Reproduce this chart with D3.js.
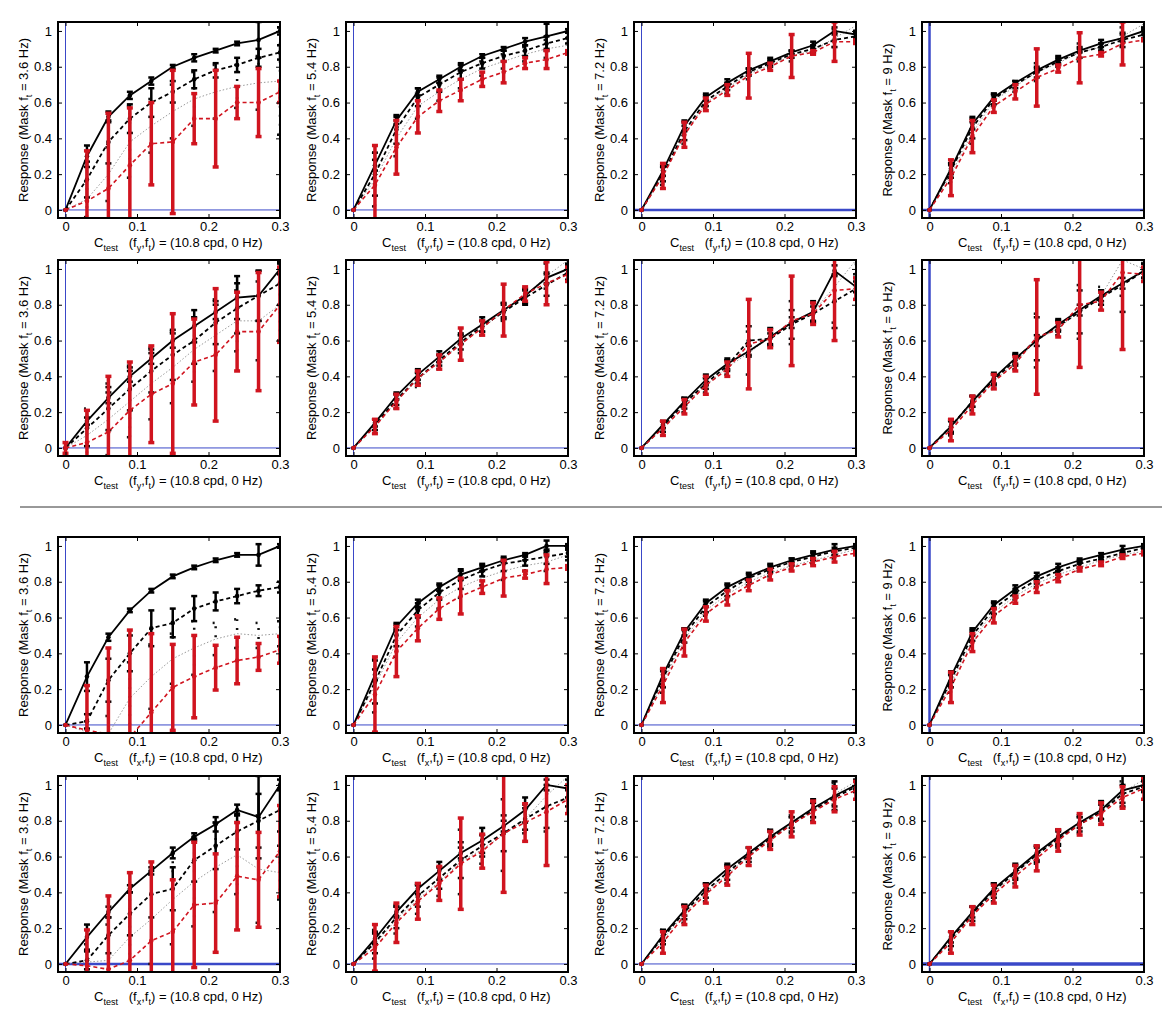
<!DOCTYPE html>
<html>
<head>
<meta charset="utf-8">
<script src="https://cdn.jsdelivr.net/npm/d3@7"></script>
<style>
  body { margin: 0; background: #fff; }
  text { font-family: "Liberation Sans", Arial, sans-serif; }
</style>
</head>
<body>
<svg id="fig" width="1167" height="1020"></svg>
<script>
// test contrasts (x positions of every point)
const contrasts = [0, 0.03, 0.06, 0.09, 0.12, 0.15, 0.18, 0.21, 0.24, 0.27, 0.30];
const xTicks = [0, 0.1, 0.2, 0.3];
const yTicks = [0, 0.2, 0.4, 0.6, 0.8, 1];
const maskFreqs = ['3.6', '5.4', '7.2', '9'];
const rowDims = ['y', 'y', 'x', 'x'];

// panels in row-major order, 11 values each
const solid = [
  [0, .30, .52, .64, .72, .80, .85, .89, .93, .95, 1.0],
  [0, .25, .50, .66, .73, .80, .86, .90, .94, .97, 1.0],
  [0, .22, .47, .63, .71, .78, .83, .88, .92, 1.0, .98],
  [0, .23, .48, .63, .71, .78, .84, .89, .93, .96, 1.0],
  [0, .15, .28, .40, .50, .60, .68, .76, .84, .85, 1.0],
  [0, .14, .29, .41, .51, .61, .69, .77, .85, .95, 1.0],
  [0, .13, .26, .38, .47, .54, .62, .70, .76, .99, .90],
  [0, .12, .26, .39, .50, .60, .69, .77, .85, .92, .99],
  [0, .27, .49, .64, .75, .83, .88, .92, .95, .95, 1.0],
  [0, .28, .55, .68, .77, .84, .88, .92, .95, 1.0, 1.0],
  [0, .28, .52, .68, .77, .83, .88, .92, .95, .98, 1.0],
  [0, .27, .52, .67, .76, .83, .88, .92, .95, .98, 1.0],
  [0, .15, .29, .42, .52, .62, .71, .78, .86, .82, 1.0],
  [0, .14, .29, .42, .52, .62, .69, .77, .86, 1.0, .98],
  [0, .16, .30, .43, .53, .62, .71, .79, .87, .94, 1.0],
  [0, .15, .29, .42, .52, .62, .71, .79, .86, .97, 1.0]
];
const dashed = [
  [0, .17, .38, .51, .60, .66, .73, .78, .81, .85, .88],
  [0, .20, .45, .63, .70, .77, .82, .86, .89, .93, .96],
  [0, .20, .44, .61, .69, .77, .82, .87, .90, .95, .97],
  [0, .22, .46, .62, .70, .77, .83, .88, .91, .95, .98],
  [0, .11, .22, .33, .43, .52, .60, .70, .78, .85, .92],
  [0, .13, .27, .39, .49, .59, .68, .76, .84, .91, .98],
  [0, .12, .25, .36, .46, .60, .61, .69, .75, .82, .89],
  [0, .12, .26, .38, .49, .61, .68, .76, .84, .91, .99],
  [0, .02, .25, .40, .54, .57, .65, .69, .72, .75, .77],
  [0, .24, .50, .64, .74, .81, .86, .90, .92, .94, .96],
  [0, .26, .50, .66, .75, .82, .87, .91, .94, .97, .99],
  [0, .25, .50, .65, .74, .81, .86, .90, .93, .96, .99],
  [0, .02, .16, .28, .39, .42, .58, .66, .74, .80, .86],
  [0, .12, .26, .38, .48, .58, .66, .73, .81, .88, .93],
  [0, .15, .29, .41, .51, .61, .70, .78, .86, .93, .99],
  [0, .14, .28, .41, .51, .61, .70, .78, .85, .95, .99]
];
const dotted = [
  [0, .06, .20, .38, .47, .55, .62, .66, .69, .71, .72],
  [0, .17, .40, .58, .66, .73, .79, .83, .87, .90, .92],
  [0, .19, .42, .60, .68, .76, .81, .86, .89, .96, 1.03],
  [0, .20, .43, .61, .69, .77, .82, .88, .91, .97, 1.04],
  [0, .07, .16, .26, .36, .45, .55, .63, .71, .71, .80],
  [0, .12, .26, .38, .48, .58, .67, .76, .85, .96, 1.05],
  [0, .11, .24, .35, .45, .53, .62, .70, .76, .90, 1.05],
  [0, .11, .25, .37, .48, .60, .67, .76, .85, 1.05, 1.0],
  [0, -.04, -.05, .15, .27, .37, .43, .48, .51, .50, .51],
  [0, .22, .46, .60, .70, .77, .82, .86, .89, .91, .95],
  [0, .24, .48, .64, .73, .80, .85, .89, .92, .95, .98],
  [0, .23, .48, .63, .72, .79, .84, .88, .92, .95, .97],
  [0, .01, .02, .15, .25, .36, .46, .54, .61, .53, .51],
  [0, .11, .25, .36, .46, .57, .64, .72, .81, .94, 1.05],
  [0, .14, .28, .40, .50, .60, .70, .78, .85, .95, 1.02],
  [0, .13, .27, .40, .50, .61, .70, .78, .85, .96, 1.03]
];
const red = [
  [0, .05, .12, .25, .37, .38, .51, .51, .60, .60, .66],
  [0, .14, .35, .52, .61, .67, .73, .77, .82, .84, .88],
  [0, .19, .42, .59, .67, .75, .80, .86, .88, .94, .94],
  [0, .18, .41, .58, .66, .74, .79, .85, .87, .93, .95],
  [0, .03, .09, .21, .30, .36, .48, .52, .65, .65, .80],
  [0, .12, .26, .39, .48, .58, .67, .77, .86, .92, .97],
  [0, .11, .23, .35, .44, .58, .61, .71, .75, .88, .89],
  [0, .10, .24, .37, .47, .62, .66, .80, .82, .98, .97],
  [0, -.03, -.05, -.07, .07, .21, .27, .32, .36, .38, .42],
  [0, .17, .41, .54, .65, .72, .77, .82, .84, .87, .88],
  [0, .22, .46, .62, .71, .78, .84, .88, .91, .94, .96],
  [0, .21, .46, .61, .70, .77, .82, .87, .90, .94, .96],
  [0, -.01, -.03, .02, .13, .18, .33, .34, .49, .47, .63],
  [0, .09, .23, .35, .45, .56, .63, .73, .79, .85, .92],
  [0, .12, .27, .39, .49, .60, .69, .78, .85, .92, .97],
  [0, .12, .27, .39, .49, .59, .69, .78, .84, .93, .98]
];

// half-lengths of the error bars
const solidErr = [
  [0, .06, .03, .02, .02, .01, .02, .01, .01, .10, .02],
  [0, .03, .02, .02, .02, .02, .01, .01, .02, .07, .01],
  [0, .03, .03, .02, .02, .01, .02, .01, .02, .02, .02],
  [0, .03, .03, .02, .01, .01, .02, .01, .02, .02, .02],
  [0, .02, .03, .03, .03, .04, .09, .04, .12, .14, .03],
  [0, .02, .02, .03, .03, .03, .04, .04, .04, .03, .03],
  [0, .02, .02, .03, .03, .03, .05, .03, .06, .03, .03],
  [0, .03, .03, .03, .03, .03, .03, .03, .03, .03, .04],
  [0, .08, .02, .01, .01, .01, .01, .01, .01, .06, .01],
  [0, .03, .02, .02, .02, .03, .02, .01, .01, .03, .01],
  [0, .03, .02, .02, .02, .02, .02, .01, .02, .03, .01],
  [0, .03, .02, .02, .02, .02, .02, .01, .01, .02, .01],
  [0, .07, .03, .02, .02, .03, .02, .04, .03, .23, .03],
  [0, .03, .03, .03, .05, .03, .07, .03, .07, .03, .05],
  [0, .03, .03, .02, .03, .03, .04, .03, .05, .08, .03],
  [0, .03, .03, .03, .04, .04, .04, .03, .05, .09, .03]
];
const dashedErr = [
  [0, .10, .12, .08, .08, .06, .05, .04, .04, .05, .04],
  [0, .12, .08, .05, .04, .04, .03, .03, .03, .04, .03],
  [0, .04, .05, .03, .02, .02, .02, .02, .02, .04, .02],
  [0, .04, .06, .03, .02, .03, .02, .03, .02, .04, .02],
  [0, .10, .12, .12, .12, .14, .13, .12, .14, .14, .12],
  [0, .03, .03, .03, .03, .04, .03, .04, .04, .06, .04],
  [0, .03, .03, .03, .03, .08, .03, .08, .04, .15, .06],
  [0, .04, .03, .03, .03, .12, .03, .12, .04, .15, .04],
  [0, .04, .12, .10, .10, .08, .07, .05, .04, .03, .03],
  [0, .12, .06, .04, .04, .05, .03, .04, .03, .04, .02],
  [0, .05, .04, .03, .03, .02, .02, .02, .02, .02, .01],
  [0, .04, .03, .03, .02, .02, .02, .02, .01, .01, .01],
  [0, .05, .10, .12, .13, .12, .12, .13, .10, .15, .12],
  [0, .06, .06, .06, .06, .10, .06, .10, .06, .12, .05],
  [0, .04, .04, .04, .04, .04, .04, .04, .04, .05, .03],
  [0, .04, .04, .04, .04, .04, .04, .04, .04, .05, .03]
];
const dottedErr = [
  [0, .10, .15, .20, .15, .15, .15, .15, .12, .15, .30],
  [0, .15, .10, .07, .05, .05, .04, .04, .04, .05, .04],
  [0, .05, .05, .03, .03, .03, .02, .03, .02, .05, .03],
  [0, .05, .06, .03, .03, .05, .02, .05, .02, .05, .03],
  [0, .15, .20, .20, .20, .20, .18, .20, .17, .22, .20],
  [0, .04, .04, .04, .04, .05, .04, .05, .04, .07, .05],
  [0, .04, .04, .04, .04, .12, .04, .12, .05, .20, .08],
  [0, .04, .04, .04, .04, .15, .04, .15, .05, .20, .05],
  [0, .06, .10, .20, .18, .14, .15, .09, .08, .07, .07],
  [0, .15, .08, .05, .05, .06, .04, .05, .03, .05, .03],
  [0, .06, .05, .03, .03, .02, .02, .02, .02, .02, .01],
  [0, .05, .04, .03, .02, .02, .02, .02, .01, .01, .01],
  [0, .10, .20, .25, .25, .25, .25, .25, .22, .30, .15],
  [0, .08, .08, .08, .08, .18, .08, .20, .08, .20, .08],
  [0, .05, .05, .05, .05, .05, .05, .05, .05, .06, .04],
  [0, .05, .05, .05, .05, .05, .05, .05, .05, .06, .04]
];
const redErr = [
  [0, .28, .42, .32, .23, .40, .14, .27, .09, .19, .06],
  [0, .22, .15, .09, .06, .06, .04, .06, .03, .05, .01],
  [0, .07, .07, .035, .03, .125, .02, .12, .01, .11, .01],
  [0, .10, .09, .035, .04, .16, .02, .14, .01, .12, .005],
  [.03, .18, .31, .27, .27, .39, .24, .37, .22, .33, .21],
  [0, .04, .04, .04, .04, .09, .04, .145, .04, .12, .04],
  [0, .04, .04, .05, .04, .25, .05, .25, .06, .28, .06],
  [0, .06, .05, .04, .04, .32, .04, .35, .05, .43, .04],
  [0, .25, .48, .60, .44, .24, .23, .125, .13, .075, .075],
  [0, .21, .14, .07, .06, .10, .035, .10, .02, .08, .01],
  [0, .095, .075, .04, .04, .03, .03, .02, .02, .03, .01],
  [0, .085, .05, .04, .02, .03, .02, .01, .01, .01, .01],
  [0, .20, .41, .49, .44, .29, .35, .275, .30, .265, .255],
  [0, .13, .11, .10, .095, .255, .095, .33, .105, .30, .08],
  [0, .06, .05, .05, .05, .05, .05, .07, .06, .07, .05],
  [0, .06, .05, .05, .06, .07, .06, .06, .06, .06, .06]
];

// layout
const colLeft = [58, 346, 634, 922];
const rowTop = [22, 260, 537, 776];
const W = 222, H = 196;
// blue zero-line widths per panel: [horizontal, vertical]
const zeroLineWidth = [
  [1, 1], [1, 1], [2.5, 1], [2.5, 2.5],
  [1, 1], [1, 1], [1, 1], [1.5, 2.5],
  [1, 1], [1, 1], [1, 1], [1, 2.5],
  [2.5, 1], [1, 1], [1, 1], [3.5, 1.5]
];

const svg = d3.select('#fig');
const RED = '#d0141f';

svg.append('line')
  .attr('x1', 20).attr('x2', 1162).attr('y1', 507).attr('y2', 507)
  .attr('stroke', '#333').attr('stroke-width', 1);

solid.forEach((_, i) => {
  const r = Math.floor(i / 4), c = i % 4;
  const g = svg.append('g').attr('transform', `translate(${colLeft[c]},${rowTop[r]})`);

  const x = d3.scaleLinear().domain([-0.0105, 0.3]).range([0, W]);
  const y = d3.scaleLinear().domain([-0.045, 1.05]).range([H, 0]);

  g.append('clipPath').attr('id', 'clip' + i)
    .append('rect').attr('width', W).attr('height', H);

  const plot = g.append('g').attr('clip-path', `url(#clip${i})`);

  // zero lines
  plot.append('line')
    .attr('x1', 0).attr('x2', W).attr('y1', y(0)).attr('y2', y(0))
    .attr('stroke', '#3a48c8').attr('stroke-width', zeroLineWidth[i][0]);
  plot.append('line')
    .attr('x1', x(0)).attr('x2', x(0)).attr('y1', 0).attr('y2', H)
    .attr('stroke', '#3a48c8').attr('stroke-width', zeroLineWidth[i][1]);

  const pts = (vals) => contrasts.map((cx, k) => [cx, vals[k]]);
  const line = d3.line().x(d => x(d[0])).y(d => y(d[1]));

  function bars(vals, errs, color, width, dash) {
    const bg = plot.append('g')
      .attr('stroke', color).attr('stroke-width', width)
      .attr('stroke-dasharray', dash);
    contrasts.forEach((cx, k) => {
      if (!errs[k]) return;
      const lo = y(vals[k] - errs[k]), hi = y(vals[k] + errs[k]);
      bg.append('line').attr('x1', x(cx)).attr('x2', x(cx)).attr('y1', lo).attr('y2', hi);
      bg.append('line').attr('x1', x(cx) - 3).attr('x2', x(cx) + 3).attr('y1', lo).attr('y2', lo)
        .attr('stroke-dasharray', null);
      bg.append('line').attr('x1', x(cx) - 3).attr('x2', x(cx) + 3).attr('y1', hi).attr('y2', hi)
        .attr('stroke-dasharray', null);
    });
  }

  function series(vals, color, width, dash, marker) {
    plot.append('path').datum(pts(vals))
      .attr('d', line).attr('fill', 'none')
      .attr('stroke', color).attr('stroke-width', width)
      .attr('stroke-dasharray', dash);
    if (marker) {
      plot.append('g').selectAll('circle').data(pts(vals)).join('circle')
        .attr('cx', d => x(d[0])).attr('cy', d => y(d[1])).attr('r', 2.3)
        .attr('fill', color);
    }
  }

  // black series with their bars
  bars(dotted[i], dottedErr[i], '#111', 2.5, '2,7');
  series(dotted[i], '#9a9a9a', 1, '1.5,2', false);
  bars(dashed[i], dashedErr[i], '#000', 2.5, null);
  series(dashed[i], '#000', 1.8, '4,3', true);
  bars(solid[i], solidErr[i], '#000', 2.5, null);
  series(solid[i], '#000', 1.8, null, true);
  // red series on top
  bars(red[i], redErr[i], RED, 3.5, null);
  series(red[i], RED, 1.6, '4,3', true);

  // axes with inward ticks on all sides
  const fmt = d => String(d);
  const styleAxis = (a) => {
    a.select('.domain').remove();
    a.selectAll('line').attr('stroke', '#000');
    a.selectAll('text').attr('font-size', 13).attr('fill', '#000')
      .attr('font-family', '"Liberation Sans", Arial, sans-serif');
  };
  g.append('g').attr('transform', `translate(0,${H})`)
    .call(d3.axisBottom(x).tickValues(xTicks).tickSize(-4).tickPadding(4).tickFormat(fmt))
    .call(styleAxis);
  g.append('g')
    .call(d3.axisTop(x).tickValues(xTicks).tickSize(-4).tickFormat(''))
    .call(styleAxis);
  g.append('g')
    .call(d3.axisLeft(y).tickValues(yTicks).tickSize(-4).tickPadding(6).tickFormat(fmt))
    .call(styleAxis);
  g.append('g').attr('transform', `translate(${W},0)`)
    .call(d3.axisRight(y).tickValues(yTicks).tickSize(-4).tickFormat(''))
    .call(styleAxis);

  g.append('rect').attr('width', W).attr('height', H)
    .attr('fill', 'none').attr('stroke', '#000').attr('stroke-width', 2);

  // y label
  const yl = g.append('text')
    .attr('transform', `translate(-30,${H / 2}) rotate(-90)`)
    .attr('text-anchor', 'middle').attr('font-size', 13).attr('fill', '#000');
  yl.append('tspan').text('Response (Mask f');
  yl.append('tspan').attr('dy', 4).attr('font-size', 9).text('t');
  yl.append('tspan').attr('dy', -4).text(` = ${maskFreqs[c]} Hz)`);

  // x label
  const xl = g.append('text')
    .attr('x', 36).attr('y', H + 29)
    .attr('font-size', 13).attr('fill', '#000')
    .style('white-space', 'pre');
  xl.append('tspan').text('C');
  xl.append('tspan').attr('dy', 4).attr('font-size', 9).text('test');
  xl.append('tspan').attr('dy', -4).text('   (f');
  xl.append('tspan').attr('dy', 4).attr('font-size', 9).text(rowDims[r]);
  xl.append('tspan').attr('dy', -4).text(',f');
  xl.append('tspan').attr('dy', 4).attr('font-size', 9).text('t');
  xl.append('tspan').attr('dy', -4).text(') = (10.8 cpd, 0 Hz)');
});
</script>
</body>
</html>
